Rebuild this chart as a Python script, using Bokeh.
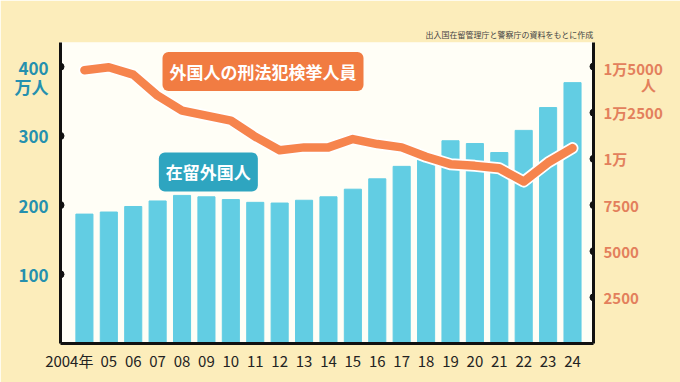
from bokeh.plotting import figure
from bokeh.models import Range1d, LinearAxis, FixedTicker, Label, Title, ColumnDataSource
from bokeh.embed import file_html
from bokeh.resources import INLINE

years = list(range(2004, 2025))
year_labels = ["2004年", "05", "06", "07", "08", "09", "10", "11", "12", "13", "14",
               "15", "16", "17", "18", "19", "20", "21", "22", "23", "24"]
residents = [187, 190, 198, 206, 214, 212, 208, 204, 203, 207, 212,
             223, 238, 256, 273, 293, 289, 276, 308, 341, 377]  # 万人
arrests = [14800, 14960, 14560, 13420, 12610, 12340, 12070, 11200, 10470, 10620, 10620,
           11070, 10800, 10620, 10110, 9710, 9620, 9490, 8770, 9800, 10580]  # 人
left_ticks = [100, 200, 300, 400]
left_labels = ["100", "200", "300", "400\n万人"]
right_ticks = [2500, 5000, 7500, 10000, 12500, 15000]
right_labels = ["2500", "5000", "7500", "1万", "1万2500", "1万5000\n\u3000\u3000\u2002人"]

FONT = "Noto Sans CJK JP"
TEAL = "#2590ae"
ORANGE_TXT = "#e3805c"

W, H = 680, 382
x0, x1 = 2003.02, 2024.86
L_MAX, R_MAX = 435, 16300
p = figure(width=W, height=H, x_range=Range1d(x0, x1), y_range=Range1d(0, L_MAX),
           output_backend="svg", toolbar_location=None,
           min_border_left=60, min_border_right=87, min_border_top=42, min_border_bottom=39)
p.extra_y_ranges = {"crime": Range1d(0, R_MAX)}
p.background_fill_color = "#fffef6"
p.border_fill_color = "#fcedbb"
p.outline_line_color = None
p.grid.visible = False

frame_h = H - 42 - 39
px_left = L_MAX / frame_h   # data units per pixel, left scale
px_right = R_MAX / frame_h  # data units per pixel, right scale

src = ColumnDataSource(dict(year=years, res=residents, arr=arrests))
p.vbar(x="year", top="res", width=0.7, source=src, color="#62cde3")
p.line(x="year", y="arr", source=src, y_range_name="crime", line_width=12,
       color="white", line_join="round", line_cap="round")
p.line(x="year", y="arr", source=src, y_range_name="crime", line_width=8.5,
       color="#f6844d", line_join="round", line_cap="round")

# left axis (two-line top label is shifted so that its first line sits on the tick)
shift_l = 10 * px_left
l_tick_pos = [t if "\n" not in l else t - shift_l for t, l in zip(left_ticks, left_labels)]
ya = p.yaxis[0]
ya.ticker = FixedTicker(ticks=l_tick_pos)
ya.major_label_overrides = {t: l for t, l in zip(l_tick_pos, left_labels)}
ya.axis_line_width = 3
ya.axis_line_color = "#111111"
ya.major_tick_line_color = None
ya.minor_tick_line_color = None
ya.major_label_text_color = TEAL
ya.major_label_text_font = FONT
ya.major_label_text_font_style = "bold"
ya.major_label_text_font_size = "17px"
ya.major_label_text_line_height = 0.75
ya.major_label_standoff = 6

# right axis
shift_r = 10 * px_right
r_tick_pos = [t if "\n" not in l else t - shift_r for t, l in zip(right_ticks, right_labels)]
ra = LinearAxis(y_range_name="crime", ticker=FixedTicker(ticks=r_tick_pos))
ra.major_label_overrides = {t: l for t, l in zip(r_tick_pos, right_labels)}
ra.axis_line_width = 3
ra.axis_line_color = "#111111"
ra.major_tick_line_color = None
ra.minor_tick_line_color = None
ra.major_label_text_color = ORANGE_TXT
ra.major_label_text_font = FONT
ra.major_label_text_font_style = "bold"
ra.major_label_text_font_size = "15px"
ra.major_label_text_line_height = 0.75
ra.major_label_standoff = 4
p.add_layout(ra, "right")

# bottom axis (first label nudged left as in the original)
x_tick_pos = [years[0] - 0.62] + years[1:]
xa = p.xaxis[0]
xa.ticker = FixedTicker(ticks=x_tick_pos)
xa.major_label_overrides = {y: l for y, l in zip(x_tick_pos, year_labels)}
xa.axis_line_width = 3
xa.axis_line_color = "#111111"
xa.major_tick_line_color = None
xa.minor_tick_line_color = None
xa.major_label_text_color = "#222222"
xa.major_label_text_font = FONT
xa.major_label_text_font_size = "15px"
xa.major_label_standoff = 0

# tick dots on the axis lines
p.scatter(x=[x0] * len(left_ticks), y=left_ticks, size=7, color="#111111")
p.scatter(x=[x1] * len(right_ticks), y=right_ticks, size=7, color="#111111",
          y_range_name="crime")

# series tags
p.add_layout(Label(x=2007.2, y=393, text="外国人の刑法犯検挙人員", text_font=FONT,
                   text_font_size="17px", text_font_style="bold", text_color="white",
                   text_baseline="middle", background_fill_color="#f17c42",
                   padding=7, border_radius=6))
p.add_layout(Label(x=2007.05, y=248, text="在留外国人", text_font=FONT,
                   text_font_size="17px", text_font_style="bold", text_color="white",
                   text_baseline="middle", background_fill_color="#2ea5c0",
                   padding=7, border_radius=6))

p.add_layout(Title(text="出入国在留管理庁と警察庁の資料をもとに作成", align="right",
                   text_font=FONT, text_font_size="8px", text_font_style="normal",
                   text_color="#444444", standoff=6), "above")

open("out.html", "w").write(file_html(p, INLINE))
